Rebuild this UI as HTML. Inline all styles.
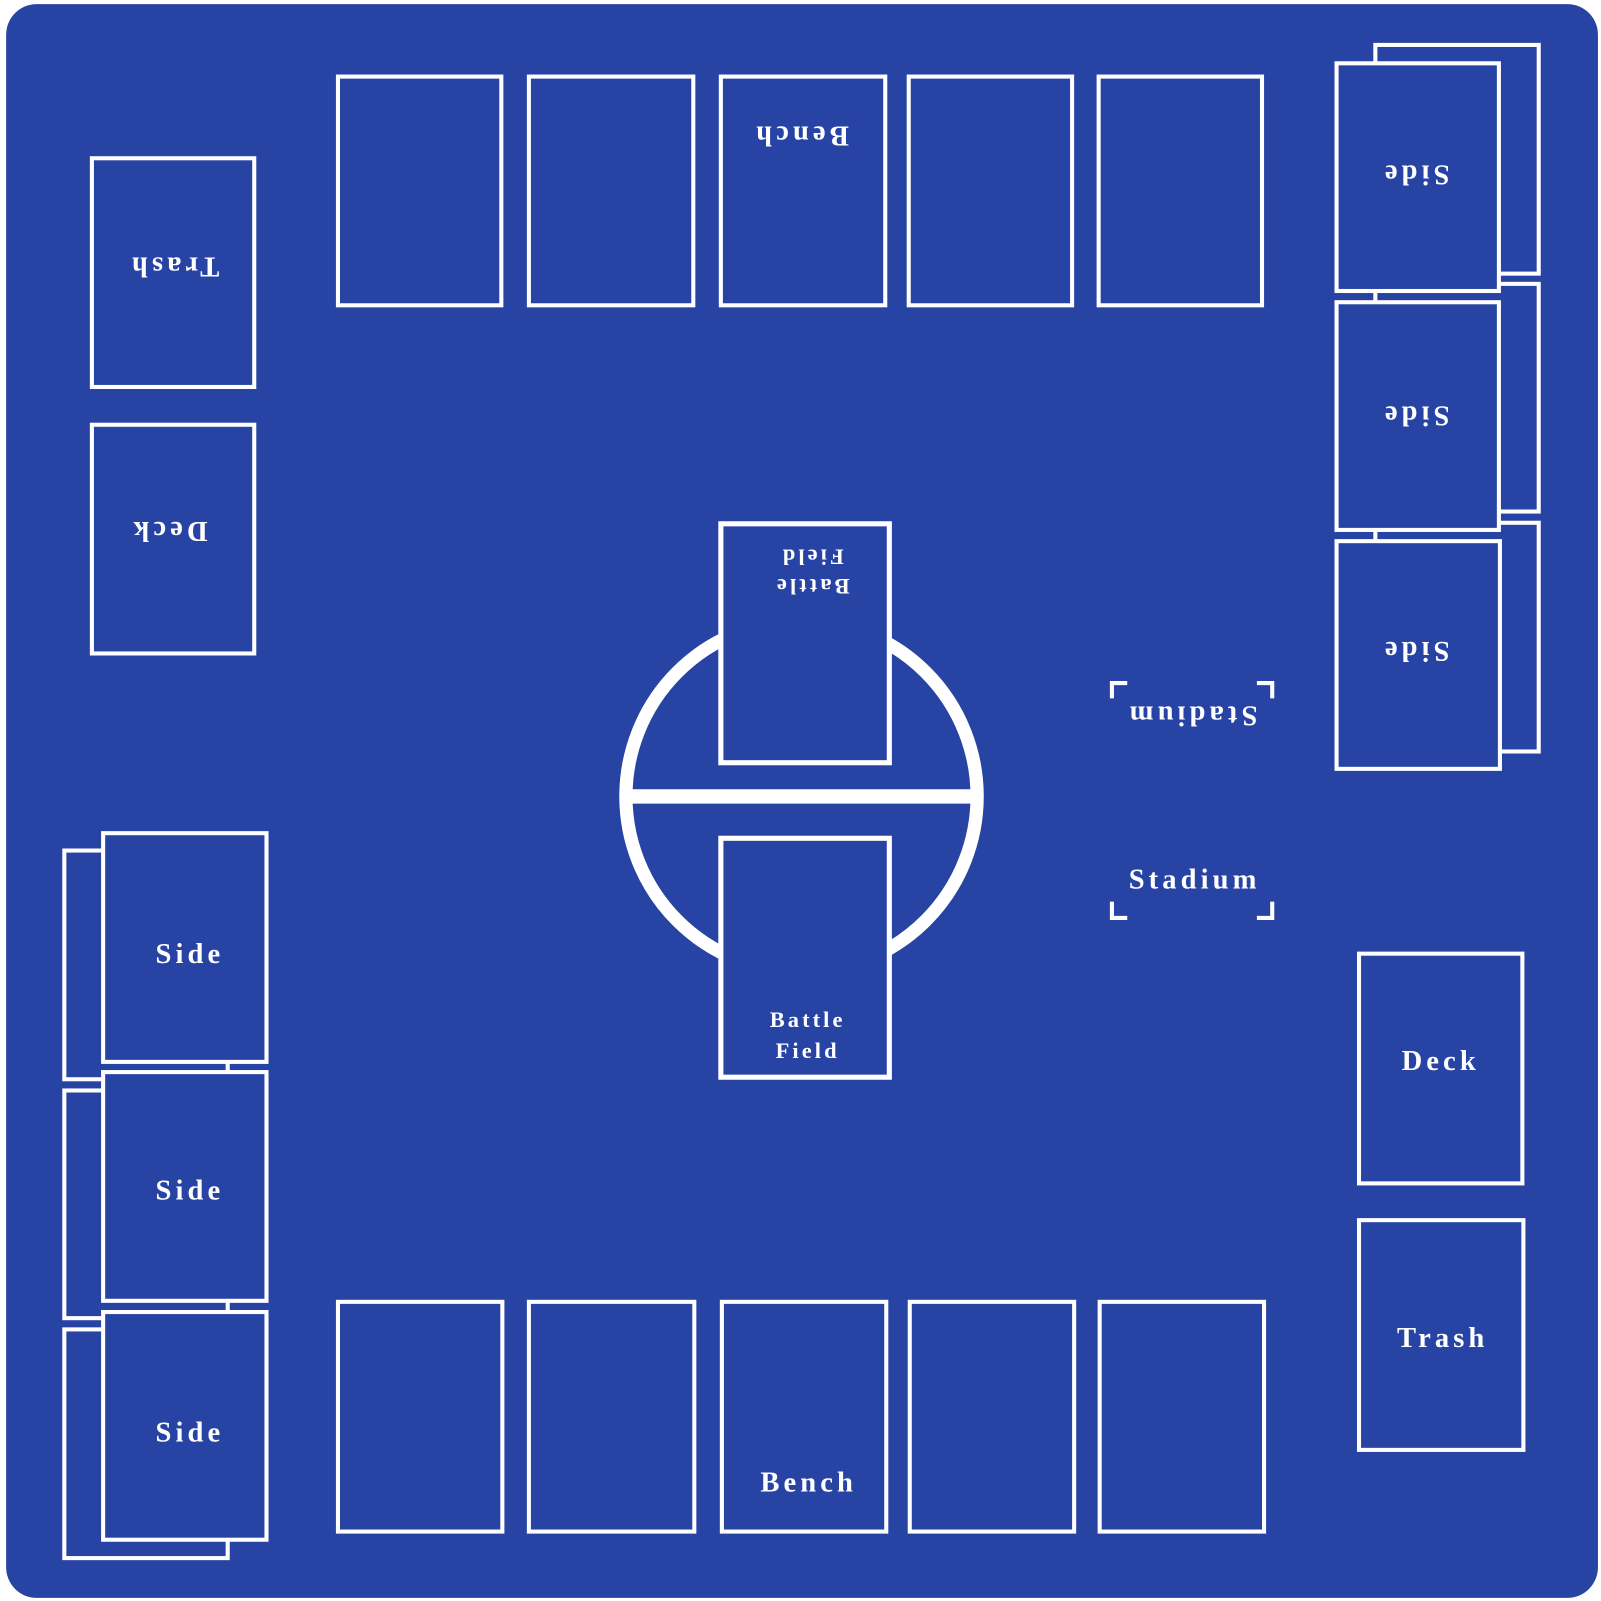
<!DOCTYPE html>
<html><head><style>
html,body{margin:0;padding:0;background:#fff;}
svg{display:block;}
text{font-family:"Liberation Serif",serif;font-weight:bold;fill:#fff;text-anchor:middle;}
</style></head><body>
<svg width="1601" height="1601" viewBox="0 0 1568 1568" xmlns="http://www.w3.org/2000/svg">
<rect x="0" y="0" width="1568" height="1568" fill="#fff"/>
<rect x="6" y="4" width="1559" height="1561" rx="30" fill="#2743a3"/>
<g fill="#2743a3" stroke="#fff" stroke-width="4">
<circle cx="785" cy="780" r="172" fill="none" stroke-width="13"/>
<line x1="612" y1="780" x2="958" y2="780" stroke-width="14"/>
<rect x="331" y="75" width="160" height="224"/>
<rect x="518" y="75" width="161" height="224"/>
<rect x="706" y="75" width="161" height="224"/>
<rect x="890" y="75" width="160" height="224"/>
<rect x="1076" y="75" width="160" height="224"/>
<rect x="331" y="1275" width="161" height="225"/>
<rect x="518" y="1275" width="162" height="225"/>
<rect x="707" y="1275" width="161" height="225"/>
<rect x="891" y="1275" width="161" height="225"/>
<rect x="1077" y="1275" width="161" height="225"/>
<rect x="90" y="155" width="159" height="224"/>
<rect x="90" y="416" width="159" height="224"/>
<rect x="1347" y="44" width="160" height="224"/>
<rect x="1347" y="278" width="160" height="223"/>
<rect x="1347" y="512" width="160" height="224"/>
<rect x="1309" y="62" width="159" height="223"/>
<rect x="1309" y="296" width="159" height="223"/>
<rect x="1309" y="530" width="160" height="223"/>
<rect x="63" y="833" width="160" height="224"/>
<rect x="63" y="1068" width="160" height="223"/>
<rect x="63" y="1302" width="160" height="224"/>
<rect x="101" y="816" width="160" height="224"/>
<rect x="101" y="1050" width="160" height="224"/>
<rect x="101" y="1285" width="160" height="223"/>
<rect x="1331" y="934" width="160" height="225"/>
<rect x="1331" y="1195" width="161" height="225"/>
<rect x="706" y="513" width="165" height="234" stroke-width="5"/>
<rect x="706" y="821" width="165" height="234" stroke-width="5"/>
</g>
<g fill="none" stroke="#fff" stroke-width="4">
<path d="M1089 684 V669 H1104"/>
<path d="M1231 669 H1246 V684"/>
<path d="M1089 883 V899 H1104"/>
<path d="M1231 899 H1246 V883"/>
</g>
<g font-size="28" letter-spacing="4">
<text x="792" y="1461">Bench</text>
<text x="1170" y="870">Stadium</text>
<text x="186" y="943">Side</text>
<text x="186" y="1175">Side</text>
<text x="186" y="1412">Side</text>
<text x="1411" y="1048">Deck</text>
<text x="1413" y="1319">Trash</text>
<text transform="rotate(180 784 134)" x="784" y="144">Bench</text>
<text transform="rotate(180 1167 702)" x="1167" y="712">Stadium</text>
<text transform="rotate(180 1386 172)" x="1386" y="182">Side</text>
<text transform="rotate(180 1386 408)" x="1386" y="418">Side</text>
<text transform="rotate(180 1386 639)" x="1386" y="649">Side</text>
<text transform="rotate(180 165 521)" x="165" y="531">Deck</text>
<text transform="rotate(180 170 262)" x="170" y="272">Trash</text>
</g>
<g font-size="22" letter-spacing="3">
<text x="791" y="1006">Battle</text>
<text x="791" y="1036">Field</text>
<g transform="rotate(180 795 559)">
<text x="795" y="551">Battle</text>
<text x="795" y="580">Field</text>
</g>
</g>
</svg>
</body></html>
